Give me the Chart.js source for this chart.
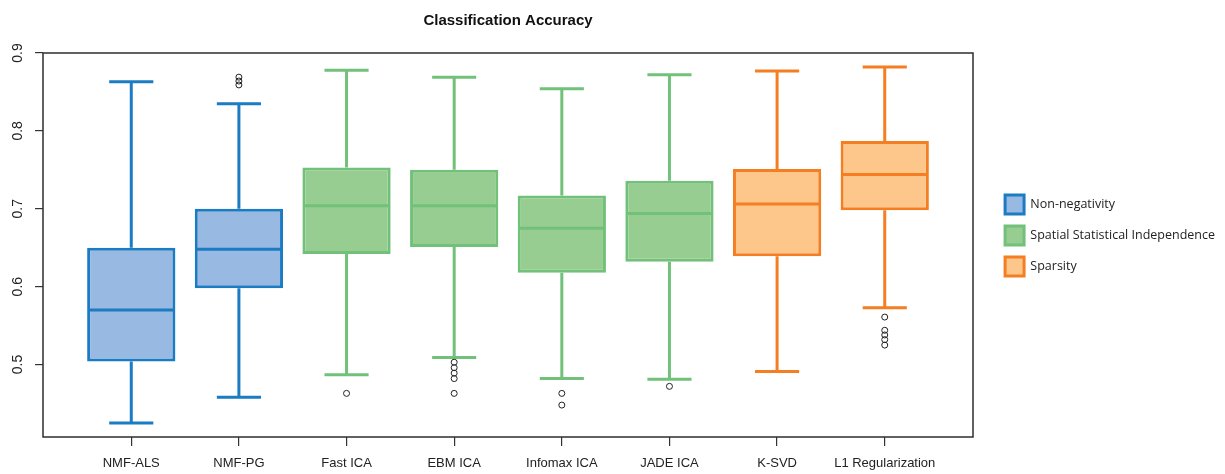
<!DOCTYPE html>
<html>
<head>
<meta charset="utf-8">
<script src="https://cdn.jsdelivr.net/npm/chart.js@4.4.1/dist/chart.umd.min.js"></script>
<style>
    html, body { margin: 0; padding: 0; background: #ffffff; }
    #wrap { width: 1225px; height: 474px; }
</style>
</head>
<body>
<div id="wrap"><canvas id="boxChart" width="1225" height="474"></canvas></div>
<script>
const categories = [
    "NMF-ALS", "NMF-PG", "Fast ICA", "EBM ICA",
    "Infomax ICA", "JADE ICA", "K-SVD", "L1 Regularization"
];
const groups = [
    "Non-negativity",
    "Spatial Statistical Independence",
    "Sparsity"
];
const groupOf = [0, 0, 1, 1, 1, 1, 2, 2];

const whiskerLow  = [0.425, 0.458, 0.487, 0.509, 0.482, 0.481, 0.491, 0.573];
const q1          = [0.504, 0.598, 0.642, 0.651, 0.618, 0.632, 0.639, 0.698];
const median      = [0.570, 0.648, 0.704, 0.704, 0.675, 0.694, 0.706, 0.744];
const q3          = [0.650, 0.700, 0.753, 0.750, 0.717, 0.736, 0.751, 0.787];
const whiskerHigh = [0.863, 0.835, 0.878, 0.869, 0.854, 0.872, 0.877, 0.882];
const outliers = [
    [],
    [0.859, 0.864, 0.869],
    [0.463],
    [0.503, 0.496, 0.489, 0.482, 0.463],
    [0.463, 0.448],
    [0.472],
    [],
    [0.561, 0.544, 0.538, 0.532, 0.525]
];
const yTicks = [0.5, 0.6, 0.7, 0.8, 0.9];

const borderColors = ["#1b7cc4", "#72c17a", "#f47e21"];
const fillColors = ["#98b9e2", "#97cd90", "#fdc68a"];
const FONT = "'Liberation Sans', Arial, sans-serif";

// one floating-bar dataset per group, boxes go from q1 to q3
const boxSets = groups.map((name, g) => {
    const data = [];
    categories.forEach((c, i) => {
        if (groupOf[i] === g) {
            data.push({ x: i + 1, y: [q1[i], q3[i]], idx: i });
        }
    });
    return {
        type: "bar",
        label: name,
        data: data,
        backgroundColor: fillColors[g],
        borderColor: borderColors[g],
        borderWidth: 3,
        borderSkipped: false,
        grouped: false,
        categoryPercentage: 1,
        barPercentage: 0.82,
        order: 2
    };
});

const outlierPoints = [];
outliers.forEach((list, i) => {
    list.forEach(v => outlierPoints.push({ x: i + 1, y: v }));
});

const boxExtras = {
    id: "boxExtras",
    beforeDatasetsDraw(chart) {
        const ctx = chart.ctx;
        const xs = chart.scales.x;
        const ys = chart.scales.y;
        ctx.save();
        ctx.lineWidth = 3;
        ctx.lineCap = "butt";
        categories.forEach((c, i) => {
            const cx = xs.getPixelForValue(i + 1);
            const half = (xs.getPixelForValue(i + 1.205) - cx);
            ctx.strokeStyle = borderColors[groupOf[i]];
            ctx.beginPath();
            ctx.moveTo(cx, ys.getPixelForValue(q3[i]));
            ctx.lineTo(cx, ys.getPixelForValue(whiskerHigh[i]));
            ctx.moveTo(cx, ys.getPixelForValue(q1[i]));
            ctx.lineTo(cx, ys.getPixelForValue(whiskerLow[i]));
            ctx.moveTo(cx - half, ys.getPixelForValue(whiskerHigh[i]));
            ctx.lineTo(cx + half, ys.getPixelForValue(whiskerHigh[i]));
            ctx.moveTo(cx - half, ys.getPixelForValue(whiskerLow[i]));
            ctx.lineTo(cx + half, ys.getPixelForValue(whiskerLow[i]));
            ctx.stroke();
        });
        ctx.restore();
    },
    afterDatasetsDraw(chart) {
        const ctx = chart.ctx;
        const ys = chart.scales.y;
        ctx.save();
        ctx.lineWidth = 3;
        groups.forEach((name, g) => {
            const meta = chart.getDatasetMeta(g);
            meta.data.forEach((bar, k) => {
                const i = chart.data.datasets[g].data[k].idx;
                const y = ys.getPixelForValue(median[i]);
                ctx.strokeStyle = borderColors[g];
                ctx.beginPath();
                ctx.moveTo(bar.x - bar.width / 2 + 1.5, y);
                ctx.lineTo(bar.x + bar.width / 2 - 1.5, y);
                ctx.stroke();
            });
        });
        const a = chart.chartArea;
        ctx.strokeStyle = "#2e2e2e";
        ctx.lineWidth = 1.5;
        ctx.strokeRect(a.left, a.top, a.right - a.left, a.bottom - a.top);
        ctx.restore();
    }
};

const chart = new Chart(
    document.getElementById("boxChart"),
    {
        data: {
            datasets: boxSets.concat([{
                type: "scatter",
                label: "outliers",
                data: outlierPoints,
                pointStyle: "circle",
                pointRadius: 3,
                pointBorderWidth: 1,
                pointBorderColor: "#222222",
                pointBackgroundColor: "rgba(0,0,0,0)",
                order: 1
            }])
        },
        options: {
            responsive: false,
            animation: false,
            events: [],
            layout: {
                padding: { top: 0, right: 0, bottom: 3, left: 0 }
            },
            plugins: {
                title: {
                    display: true,
                    text: "Classification Accuracy",
                    fullSize: false,
                    color: "#111111",
                    font: { family: FONT, size: 15, weight: "bold" },
                    padding: { top: 12, bottom: 23 }
                },
                legend: {
                    position: "right",
                    align: "center",
                    maxWidth: 300,
                    labels: {
                        boxWidth: 19,
                        boxHeight: 19,
                        padding: 12,
                        color: "#222222",
                        font: { family: "'Open Sans', sans-serif", size: 12.5 },
                        filter: item => item.datasetIndex < groups.length
                    }
                },
                tooltip: { enabled: false }
            },
            scales: {
                x: {
                    type: "linear",
                    position: "bottom",
                    offset: false,
                    min: 0.18,
                    max: 8.82,
                    afterBuildTicks: s => {
                        s.ticks = categories.map((c, i) => ({ value: i + 1 }));
                    },
                    afterFit: s => { s.height = 34; },
                    ticks: {
                        autoSkip: false,
                        maxRotation: 0,
                        padding: 10,
                        color: "#222222",
                        font: { family: FONT, size: 13 },
                        callback: v => categories[v - 1]
                    },
                    grid: {
                        offset: false,
                        drawOnChartArea: false,
                        drawTicks: true,
                        tickLength: 9,
                        color: "#333333",
                        lineWidth: 1.2
                    },
                    border: { display: false }
                },
                y: {
                    type: "linear",
                    position: "left",
                    min: 0.407,
                    max: 0.9,
                    afterBuildTicks: s => {
                        s.ticks = yTicks.map(v => ({ value: v }));
                    },
                    afterFit: s => { s.width = 43; },
                    ticks: {
                        minRotation: 90,
                        maxRotation: 90,
                        crossAlign: "center",
                        padding: 7,
                        color: "#222222",
                        font: { family: FONT, size: 14 },
                        callback: v => v.toFixed(1)
                    },
                    grid: {
                        drawOnChartArea: false,
                        drawTicks: true,
                        tickLength: 8,
                        color: "#333333",
                        lineWidth: 1.2
                    },
                    border: { display: false }
                },
                gap: {
                    type: "linear",
                    position: "right",
                    display: true,
                    afterFit: s => {
                        s.width = Math.max(0, s.chart.width - s.chart.legend.width - 973);
                    },
                    ticks: { display: false },
                    grid: { display: false },
                    border: { display: false }
                }
            }
        },
        plugins: [boxExtras]
    }
);
</script>
</body>
</html>
